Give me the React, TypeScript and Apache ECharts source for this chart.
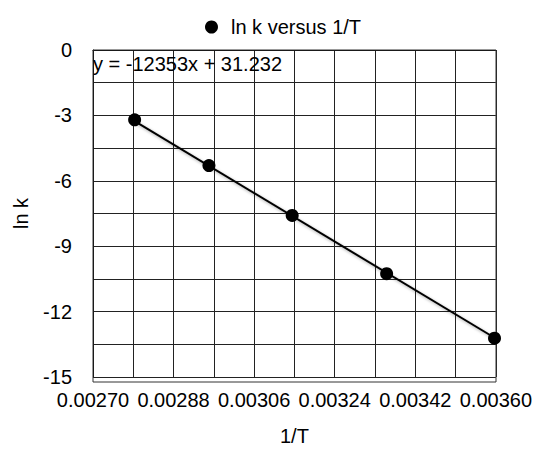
import React, { useEffect, useRef } from "react";
import * as echarts from "echarts";

const invT = [0.002793, 0.002959, 0.003145, 0.003356, 0.003597];
const lnK = [-3.2, -5.3, -7.59, -10.26, -13.22];
const trendX = [0.002793, 0.003597];
const trendY = [-3.26, -13.2];
const equation = "y = -12353x + 31.232";
const seriesName = "ln k versus 1/T";

const FONT = "'Liberation Sans', Arial, Helvetica, sans-serif";
const FS = 20;

export default function App() {
  const ref = useRef<HTMLDivElement>(null);
  useEffect(() => {
    document.body.style.margin = "0";
    const chart = echarts.init(ref.current!, null, { renderer: "svg" });
    const gridLine = { show: true, lineStyle: { color: "#222", width: 1 } };
    chart.setOption({
      animation: false,
      backgroundColor: "#fff",
      textStyle: { fontFamily: FONT, color: "#000" },
      legend: {
        data: [{ name: seriesName, icon: "circle" }],
        top: 12,
        left: 200,
        itemWidth: 13,
        itemHeight: 13,
        itemStyle: { opacity: 1, color: "#000" },
        textStyle: { fontSize: FS, color: "#000", fontFamily: FONT, padding: [0, 0, 0, 8] },
      },
      grid: { left: 93, top: 50, width: 403, height: 332, containLabel: false },
      xAxis: {
        type: "value",
        min: 0.0027,
        max: 0.0036,
        interval: 0.00018,
        name: "1/T",
        nameLocation: "middle",
        nameGap: 49,
        nameTextStyle: { fontSize: FS, color: "#000", fontFamily: FONT },
        axisLine: { show: true, lineStyle: { color: "#000", width: 1 } },
        axisTick: { show: false },
        axisLabel: {
          fontSize: FS,
          color: "#000",
          margin: 13,
          fontFamily: FONT,
          formatter: (v: number) => v.toFixed(5),
        },
        splitLine: gridLine,
        minorTick: { show: false, splitNumber: 2 },
        minorSplitLine: gridLine,
      },
      yAxis: {
        type: "value",
        min: -15,
        max: 0,
        interval: 3,
        name: "ln k",
        nameLocation: "middle",
        nameGap: 62,
        nameTextStyle: { fontSize: FS, color: "#000", fontFamily: FONT },
        axisLine: { show: true, lineStyle: { color: "#000", width: 1 } },
        axisTick: { show: false },
        axisLabel: { fontSize: FS, color: "#000", margin: 21, fontFamily: FONT },
        splitLine: gridLine,
        minorTick: { show: false, splitNumber: 2 },
        minorSplitLine: gridLine,
      },
      graphic: [
        {
          type: "rect",
          shape: { x: 93, y: 50, width: 403, height: 332 },
          style: { fill: "none", stroke: "#333", lineWidth: 1 },
          silent: true,
          z: 1,
        },
        {
          type: "text",
          x: 93,
          y: 64,
          style: {
            text: equation,
            fontSize: FS,
            fontFamily: FONT,
            fill: "#000",
            verticalAlign: "middle",
            align: "left",
          },
          z: 10,
        },
      ],
      series: [
        {
          type: "line",
          name: "trend",
          data: trendX.map((x, i) => [x, trendY[i]]),
          showSymbol: false,
          symbol: "none",
          lineStyle: {
            color: "#000",
            width: 2,
            shadowColor: "rgba(0,0,0,0.35)",
            shadowBlur: 3,
            shadowOffsetX: 2,
            shadowOffsetY: 2,
          },
          z: 3,
          silent: true,
        },
        {
          type: "scatter",
          name: seriesName,
          data: invT.map((x, i) => [x, lnK[i]]),
          symbol: "circle",
          symbolSize: 13,
          itemStyle: { color: "#000", opacity: 1 },
          z: 4,
        },
      ],
    });
    return () => chart.dispose();
  }, []);
  return <div ref={ref} style={{ width: 535, height: 451 }} />;
}
